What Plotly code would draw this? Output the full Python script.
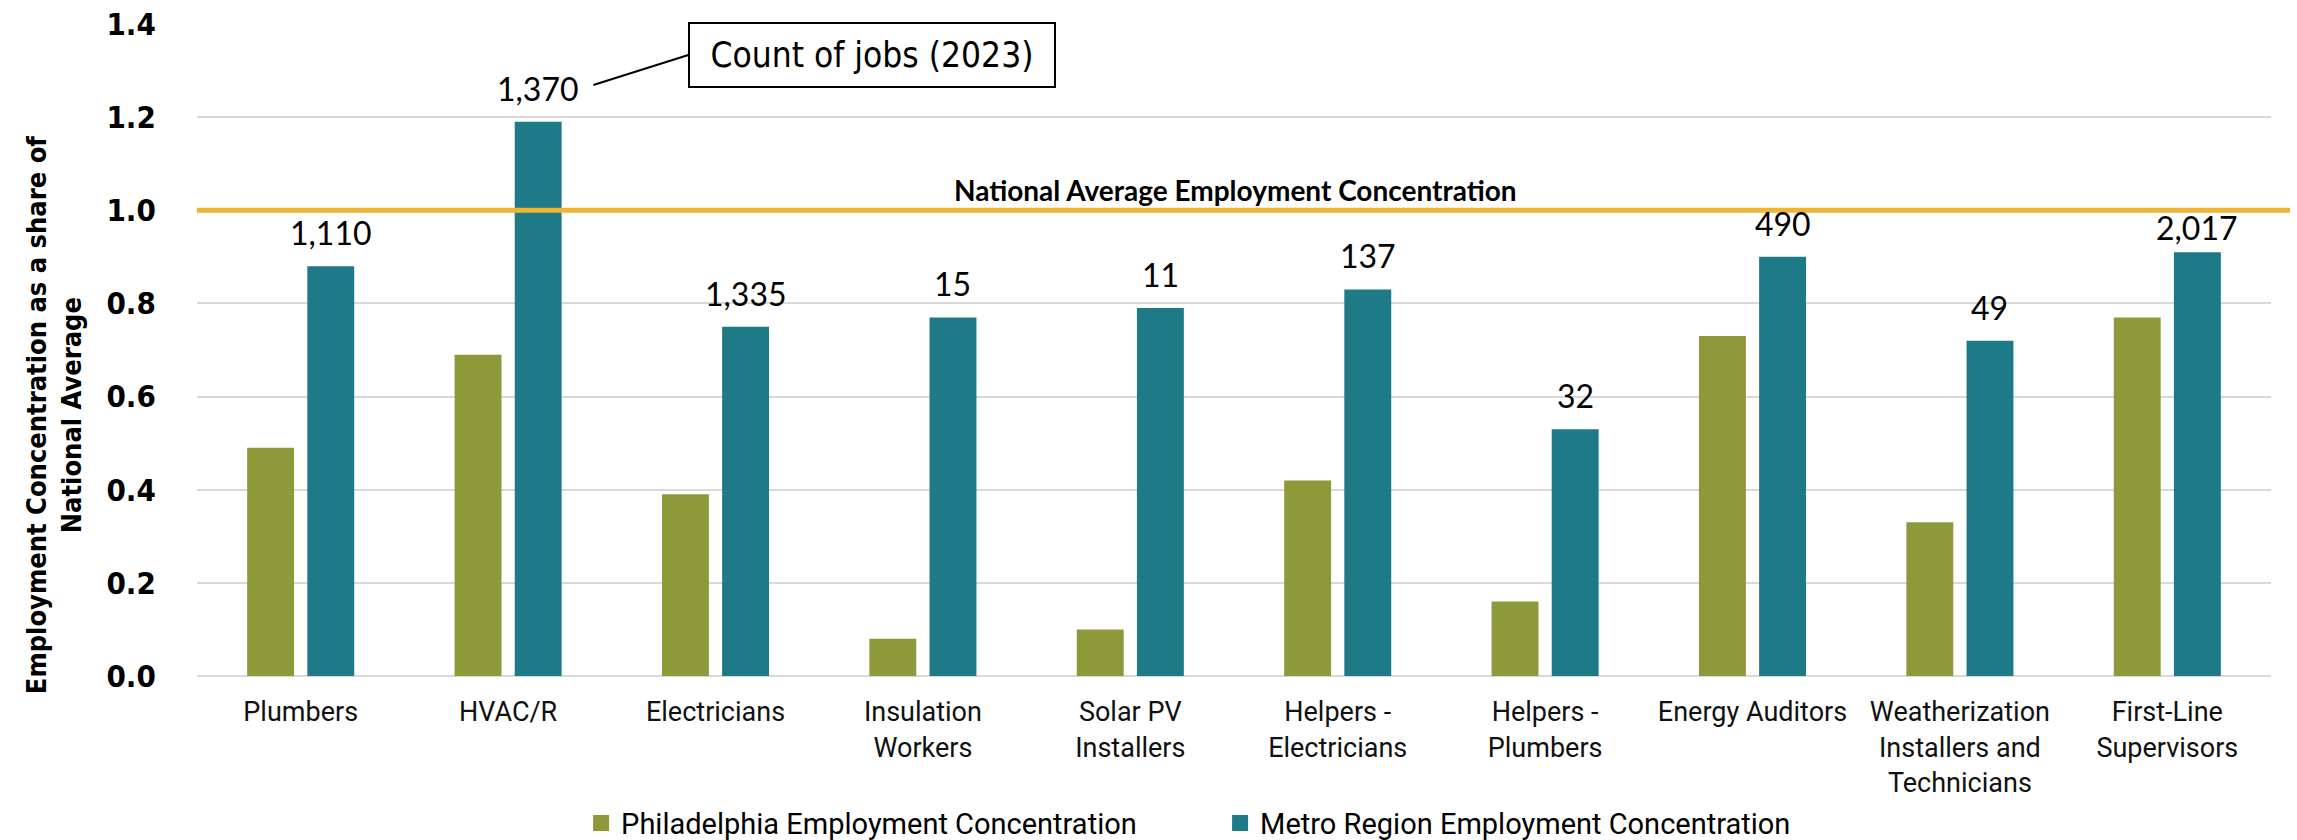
import plotly.graph_objects as go

categories = ["Plumbers", "HVAC/R", "Electricians", "Insulation<br>Workers", "Solar PV<br>Installers",
              "Helpers -<br>Electricians", "Helpers -<br>Plumbers", "Energy Auditors",
              "Weatherization<br>Installers and<br>Technicians", "First-Line<br>Supervisors"]
philly = [0.49, 0.69, 0.39, 0.08, 0.10, 0.42, 0.16, 0.73, 0.33, 0.77]
metro = [0.88, 1.19, 0.75, 0.77, 0.79, 0.83, 0.53, 0.90, 0.72, 0.91]
job_counts = ["1,110", "1,370", "1,335", "15", "11", "137", "32", "490", "49", "2,017"]
national_avg = 1.0
y_ticks = [0.0, 0.2, 0.4, 0.6, 0.8, 1.0, 1.2, 1.4]

# pixel gap between bar top and its count label (last one sits closer, under the average line)
label_gap = [12, 12, 12, 12, 12, 12, 12, 12, 12, 3]

GREEN = "#8E9A3A"
TEAL = "#1F7A87"
YELLOW = "#F0B430"
COND = "DejaVu Sans Condensed, sans-serif"
LIGHT = "Roboto, DejaVu Sans, sans-serif"
LABEL = "Lato, Carlito, Calibri, sans-serif"

BARGAP = 0.42
idx = list(range(len(categories)))
teal_offset = (1 - BARGAP) / 4  # centre of second bar in a group of two

fig = go.Figure()
fig.add_trace(go.Bar(x=idx, y=philly, name="Philadelphia Employment Concentration",
                     marker=dict(color=GREEN, line=dict(width=0)), showlegend=False))
fig.add_trace(go.Bar(x=idx, y=metro, name="Metro Region Employment Concentration",
                     marker=dict(color=TEAL, line=dict(width=0)), showlegend=False))
# legend entries with square swatches
fig.add_trace(go.Scatter(x=[None], y=[None], mode="markers", name="Philadelphia Employment Concentration",
                         marker=dict(symbol="square", size=16, color=GREEN)))
fig.add_trace(go.Scatter(x=[None], y=[None], mode="markers", name="Metro Region Employment Concentration",
                         marker=dict(symbol="square", size=16, color=TEAL)))

# job count labels above the metro bars
for i, (v, t, g) in enumerate(zip(metro, job_counts, label_gap)):
    fig.add_annotation(x=i + teal_offset, y=v, xref="x", yref="y", text=t, showarrow=False,
                       yanchor="bottom", yshift=g, font=dict(family=LABEL, size=32, color="#000000"))

fig.add_shape(type="line", xref="paper", yref="y", x0=0, x1=1.0092, y0=national_avg, y1=national_avg,
              line=dict(color=YELLOW, width=5), layer="above")
fig.add_annotation(xref="paper", yref="y", x=0.5005, y=national_avg, yanchor="bottom", yshift=1,
                   text="<b>National Average Employment Concentration</b>", showarrow=False,
                   font=dict(family=LABEL, size=28, color="#000000"))
fig.add_annotation(x=1.411, y=1.269, xref="x", yref="y", ax=95, ay=-30, xanchor="left", yanchor="middle",
                   text="Count of jobs (2023)", showarrow=True, arrowhead=0, arrowwidth=2,
                   arrowcolor="#000000", bordercolor="#000000", borderwidth=2, borderpad=11, width=342,
                   bgcolor="#ffffff", font=dict(family=COND, size=35, color="#000000"))
fig.add_annotation(xref="paper", yref="paper", x=0, xshift=-143, y=0.40, textangle=-90,
                   xanchor="center", yanchor="middle",
                   text="<b>Employment Concentration as a share of<br>National Average</b>", showarrow=False,
                   font=dict(family=COND, size=27, color="#000000"))

fig.update_layout(
    width=2297, height=840,
    margin=dict(l=197, r=26, t=24, b=164, autoexpand=False),
    plot_bgcolor="#ffffff", paper_bgcolor="#ffffff",
    barmode="group", bargap=BARGAP, bargroupgap=0.22,
    showlegend=True,
    legend=dict(orientation="h", x=0.1852, xanchor="left", xref="paper", y=0.02, yanchor="middle",
                yref="container", font=dict(family=LIGHT, size=29, color="#000000"), itemwidth=30,
                traceorder="normal", entrywidthmode="pixels", entrywidth=594,
                bgcolor="rgba(0,0,0,0)"),
)
fig.update_xaxes(tickmode="array", tickvals=idx, ticktext=categories, automargin=False,
                 range=[-0.5, len(categories) - 0.5], showgrid=False, showline=False, zeroline=False,
                 tickfont=dict(family=LIGHT, size=27, color="#111111"), ticks="outside", ticklen=12,
                 tickcolor="rgba(0,0,0,0)")
fig.update_yaxes(range=[0, 1.4], tickvals=y_ticks, tickformat=".1f", automargin=False,
                 showgrid=True, gridcolor="#D9D9D9", gridwidth=2, zeroline=True, zerolinecolor="#D9D9D9",
                 zerolinewidth=2, showline=False,
                 tickfont=dict(family=COND, size=31, color="#000000", weight="bold"),
                 ticks="outside", ticklen=34, tickcolor="rgba(0,0,0,0)")

fig.write_html("out.html", config={"displayModeBar": False},
               post_script="document.body.style.margin='0';")
